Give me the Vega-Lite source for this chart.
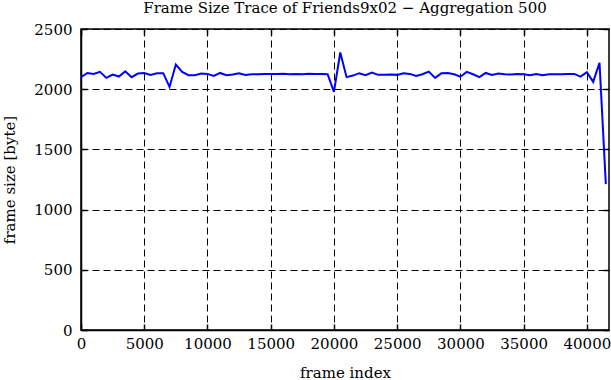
{
  "$schema": "https://vega.github.io/schema/vega-lite/v6.json",
  "autosize": "none",
  "width": 528,
  "height": 301,
  "padding": {"left": 81, "top": 29, "right": 2, "bottom": 50},
  "background": "white",
  "title": {
    "text": "Frame Size Trace of Friends9x02 − Aggregation 500",
    "font": "DejaVu Serif",
    "fontSize": 15,
    "fontWeight": "normal",
    "color": "black",
    "anchor": "middle",
    "offset": 6
  },
  "config": {
    "view": {"stroke": "black", "strokeWidth": 1.5},
    "axis": {
      "labelFont": "DejaVu Serif",
      "titleFont": "DejaVu Serif",
      "labelFontSize": 15,
      "titleFontSize": 15,
      "titleFontWeight": "normal",
      "labelColor": "black",
      "titleColor": "black",
      "domainColor": "black",
      "domainWidth": 1.5,
      "tickColor": "black",
      "tickWidth": 1.5,
      "tickSize": -6,
      "gridColor": "black",
      "gridDash": [7, 4],
      "gridOpacity": 1,
      "gridWidth": 1
    }
  },
  "data": {
    "values": [
      {"frame": 0, "size": 2100}, {"frame": 500, "size": 2135}, {"frame": 1000, "size": 2127},
      {"frame": 1500, "size": 2144}, {"frame": 2000, "size": 2094}, {"frame": 2500, "size": 2122},
      {"frame": 3000, "size": 2105}, {"frame": 3500, "size": 2149}, {"frame": 4000, "size": 2100},
      {"frame": 4500, "size": 2130}, {"frame": 5000, "size": 2135}, {"frame": 5500, "size": 2119},
      {"frame": 6000, "size": 2133}, {"frame": 6500, "size": 2133}, {"frame": 7000, "size": 2019},
      {"frame": 7500, "size": 2205}, {"frame": 8000, "size": 2144}, {"frame": 8500, "size": 2116},
      {"frame": 9000, "size": 2116}, {"frame": 9500, "size": 2130}, {"frame": 10000, "size": 2127},
      {"frame": 10500, "size": 2110}, {"frame": 11000, "size": 2135}, {"frame": 11500, "size": 2116},
      {"frame": 12000, "size": 2122}, {"frame": 12500, "size": 2133}, {"frame": 13000, "size": 2119},
      {"frame": 13500, "size": 2124}, {"frame": 14000, "size": 2124}, {"frame": 14500, "size": 2127},
      {"frame": 15000, "size": 2127}, {"frame": 15500, "size": 2126}, {"frame": 16000, "size": 2128},
      {"frame": 16500, "size": 2125}, {"frame": 17000, "size": 2127}, {"frame": 17500, "size": 2124},
      {"frame": 18000, "size": 2128}, {"frame": 18500, "size": 2126}, {"frame": 19000, "size": 2127},
      {"frame": 19500, "size": 2125}, {"frame": 20000, "size": 1978}, {"frame": 20500, "size": 2305},
      {"frame": 21000, "size": 2100}, {"frame": 21500, "size": 2113}, {"frame": 22000, "size": 2133},
      {"frame": 22500, "size": 2116}, {"frame": 23000, "size": 2138}, {"frame": 23500, "size": 2119},
      {"frame": 24000, "size": 2119}, {"frame": 24500, "size": 2122}, {"frame": 25000, "size": 2119},
      {"frame": 25500, "size": 2133}, {"frame": 26000, "size": 2127}, {"frame": 26500, "size": 2110},
      {"frame": 27000, "size": 2124}, {"frame": 27500, "size": 2146}, {"frame": 28000, "size": 2094},
      {"frame": 28500, "size": 2133}, {"frame": 29000, "size": 2135}, {"frame": 29500, "size": 2124},
      {"frame": 30000, "size": 2104}, {"frame": 30500, "size": 2144}, {"frame": 31000, "size": 2124},
      {"frame": 31500, "size": 2100}, {"frame": 32000, "size": 2135}, {"frame": 32500, "size": 2119},
      {"frame": 33000, "size": 2130}, {"frame": 33500, "size": 2124}, {"frame": 34000, "size": 2122},
      {"frame": 34500, "size": 2127}, {"frame": 35000, "size": 2124}, {"frame": 35500, "size": 2116},
      {"frame": 36000, "size": 2127}, {"frame": 36500, "size": 2116}, {"frame": 37000, "size": 2124},
      {"frame": 37500, "size": 2124}, {"frame": 38000, "size": 2124}, {"frame": 38500, "size": 2127},
      {"frame": 39000, "size": 2127}, {"frame": 39500, "size": 2105}, {"frame": 40000, "size": 2141},
      {"frame": 40500, "size": 2061}, {"frame": 41000, "size": 2220}, {"frame": 41500, "size": 1212}
    ]
  },
  "resolve": {"axis": {"x": "independent", "y": "independent"}},
  "layer": [
    {
      "mark": {"type": "line", "color": "#0000ff", "strokeWidth": 2, "clip": true},
      "encoding": {
        "x": {
          "field": "frame", "type": "quantitative",
          "scale": {"domain": [0, 41750], "nice": false, "zero": false},
          "axis": {
            "orient": "bottom",
            "title": "frame index",
            "values": [0, 5000, 10000, 15000, 20000, 25000, 30000, 35000, 40000],
            "format": "d",
            "grid": true,
            "labelPadding": 12,
            "titlePadding": 14,
            "labelFlush": false
          }
        },
        "y": {
          "field": "size", "type": "quantitative",
          "scale": {"domain": [0, 2500], "nice": false},
          "axis": {
            "orient": "left",
            "title": "frame size [byte]",
            "values": [0, 500, 1000, 1500, 2000, 2500],
            "format": "d",
            "grid": true,
            "labelPadding": 15,
            "titlePadding": 16,
            "labelFlush": false
          }
        }
      }
    },
    {
      "mark": {"type": "line", "strokeOpacity": 0},
      "encoding": {
        "x": {
          "field": "frame", "type": "quantitative",
          "axis": {
            "orient": "top", "title": null, "labels": false, "grid": false, "domain": false,
            "values": [0, 5000, 10000, 15000, 20000, 25000, 30000, 35000, 40000]
          }
        },
        "y": {
          "field": "size", "type": "quantitative",
          "axis": {
            "orient": "right", "title": null, "labels": false, "grid": false, "domain": false,
            "values": [0, 500, 1000, 1500, 2000, 2500]
          }
        }
      }
    }
  ]
}
